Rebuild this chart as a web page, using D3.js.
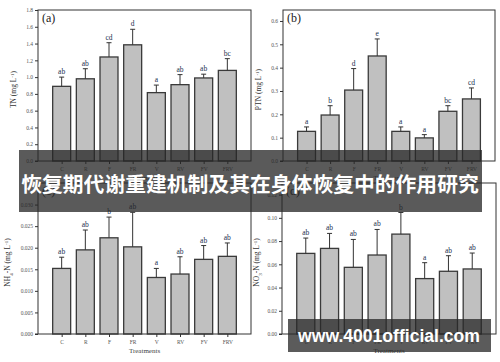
<!DOCTYPE html>
<html>
<head>
<meta charset="utf-8">
<script src="https://cdn.jsdelivr.net/npm/d3@7"></script>
<style>
html,body{margin:0;padding:0;background:#fff;}
svg{display:block;}
</style>
</head>
<body>
<svg id="chart" width="500" height="362"></svg>
<script>
// ---------- data ----------
const categories = ["C", "R", "F", "FR", "V", "RV", "FV", "FRV"];

const tnValues  = [0.89, 0.98, 1.24, 1.385, 0.815, 0.91, 0.99, 1.08];
const tnErrors  = [0.11, 0.12, 0.17, 0.185, 0.09, 0.12, 0.045, 0.14];
const tnLetters = ["ab", "ab", "cd", "d", "a", "ab", "ab", "bc"];
const tnTicks   = [0, 0.2, 0.4, 0.6, 0.8, 1.0, 1.2, 1.4, 1.6, 1.8];

const ptnValues  = [0.127, 0.197, 0.304, 0.45, 0.127, 0.099, 0.213, 0.266];
const ptnErrors  = [0.019, 0.04, 0.092, 0.073, 0.019, 0.014, 0.024, 0.047];
const ptnLetters = ["a", "b", "d", "e", "a", "a", "bc", "cd"];
const ptnTicks   = [0, 0.1, 0.2, 0.3, 0.4, 0.5, 0.6];

const nh4Values  = [0.0152, 0.0195, 0.0223, 0.0202, 0.0131, 0.0139, 0.0173, 0.0180];
const nh4Errors  = [0.0026, 0.0046, 0.0048, 0.0080, 0.0021, 0.0040, 0.0032, 0.0031];
const nh4Letters = ["ab", "ab", "b", "ab", "a", "ab", "ab", "ab"];
const nh4Ticks   = [0, 0.005, 0.010, 0.015, 0.020, 0.025, 0.030];

const no3Values  = [0.0694, 0.0737, 0.0574, 0.068, 0.086, 0.0477, 0.054, 0.056];
const no3Errors  = [0.0132, 0.0129, 0.024, 0.022, 0.0186, 0.0137, 0.0134, 0.0137];
const no3Letters = ["ab", "ab", "ab", "ab", "b", "a", "ab", "ab"];
const no3Ticks   = [0, 0.02, 0.04, 0.06, 0.08, 0.10, 0.12];

const xLabel = "Treatments";
const bannerText = "恢复期代谢重建机制及其在身体恢复中的作用研究";
const watermarkText = "www.4001official.com";

// ---------- layout ----------
const panels = [
  {tag: "(a)", values: tnValues, errors: tnErrors, letters: tnLetters, ticks: tnTicks, fmt: ".1f", ymax: 1.8,
   left: 38, right: 251, top: 10, bottom: 161, ylab: [["TN (mg L", ""], ["-1", "sup"], [")", ""]], ylx: 16},
  {tag: "(b)", values: ptnValues, errors: ptnErrors, letters: ptnLetters, ticks: ptnTicks, fmt: ".1f", ymax: 0.647,
   left: 283, right: 495, top: 10, bottom: 161, ylab: [["PTN (mg L", ""], ["-1", "sup"], [")", ""]], ylx: 261},
  {tag: "(c)", values: nh4Values, errors: nh4Errors, letters: nh4Letters, ticks: nh4Ticks, fmt: ".3f", ymax: 0.035,
   left: 38, right: 251, top: 183, bottom: 334, ylab: [["NH", ""], ["4", "sub"], ["-N (mg L", ""], ["-1", "sup"], [")", ""]], ylx: 10},
  {tag: "(d)", values: no3Values, errors: no3Errors, letters: no3Letters, ticks: no3Ticks, fmt: ".2f", ymax: 0.13,
   left: 282, right: 496, top: 183, bottom: 334, ylab: [["NO", ""], ["3", "sub"], ["-N (mg L", ""], ["-1", "sup"], [")", ""]], ylx: 259}
];

const svg = d3.select("#chart");
const serif = "'Liberation Serif','Times New Roman',serif";
const ink = "#333";

panels.forEach(p => {
  const g = svg.append("g");
  const x = d3.scaleLinear().domain([0, categories.length + 1]).range([p.left, p.right]);
  const y = d3.scaleLinear().domain([0, p.ymax]).range([p.bottom, p.top]);
  const barW = (x(1) - x(0)) * 0.76;

  g.selectAll("rect.bar").data(p.values).join("rect")
    .attr("class", "bar")
    .attr("x", (d, i) => x(i + 1) - barW / 2)
    .attr("y", d => y(d))
    .attr("width", barW)
    .attr("height", d => y(0) - y(d))
    .attr("fill", "#c0c0c0")
    .attr("stroke", "#3a3a3a")
    .attr("stroke-width", 1.3);

  const eb = g.selectAll("g.err").data(p.values).join("g").attr("class", "err");
  eb.append("line")
    .attr("x1", (d, i) => x(i + 1)).attr("x2", (d, i) => x(i + 1))
    .attr("y1", d => y(d)).attr("y2", (d, i) => y(d + p.errors[i]))
    .attr("stroke", ink).attr("stroke-width", 1);
  eb.append("line")
    .attr("x1", (d, i) => x(i + 1) - 2.5).attr("x2", (d, i) => x(i + 1) + 2.5)
    .attr("y1", (d, i) => y(d + p.errors[i])).attr("y2", (d, i) => y(d + p.errors[i]))
    .attr("stroke", ink).attr("stroke-width", 1);

  g.selectAll("text.sig").data(p.values).join("text")
    .attr("class", "sig")
    .attr("x", (d, i) => x(i + 1))
    .attr("y", (d, i) => y(d + p.errors[i]) - 3)
    .attr("text-anchor", "middle")
    .attr("font-family", serif)
    .attr("font-size", 7.5)
    .attr("fill", "#22304f")
    .text((d, i) => p.letters[i]);

  const yAxis = d3.axisLeft(y).tickValues(p.ticks).tickFormat(d3.format(p.fmt))
    .tickSize(3).tickSizeOuter(0).tickPadding(2);
  const ya = g.append("g").attr("transform", `translate(${p.left},0)`).call(yAxis);
  const xAxis = d3.axisBottom(x).tickValues(d3.range(1, categories.length + 1))
    .tickFormat(i => categories[i - 1]).tickSize(3).tickSizeOuter(0).tickPadding(3);
  const xa = g.append("g").attr("transform", `translate(0,${p.bottom})`).call(xAxis);
  [ya, xa].forEach(a => {
    a.select(".domain").remove();
    a.selectAll(".tick line").attr("stroke", ink);
    a.selectAll(".tick text").attr("font-family", serif).attr("font-size", 5.5).attr("fill", "#555");
  });

  g.append("rect")
    .attr("x", p.left).attr("y", p.top)
    .attr("width", p.right - p.left).attr("height", p.bottom - p.top)
    .attr("fill", "none").attr("stroke", ink).attr("stroke-width", 1);
  g.append("line")
    .attr("x1", p.left - 3).attr("x2", p.left)
    .attr("y1", p.bottom).attr("y2", p.bottom)
    .attr("stroke", ink);

  g.append("text")
    .attr("x", p.left + 4).attr("y", p.top + 12)
    .attr("font-family", serif).attr("font-size", 12).attr("fill", "#222")
    .text(p.tag);

  g.append("text")
    .attr("x", (p.left + p.right) / 2).attr("y", p.bottom + 19)
    .attr("text-anchor", "middle")
    .attr("font-family", serif).attr("font-size", 7).attr("fill", "#444")
    .text(xLabel);

  const yl = g.append("text")
    .attr("transform", `translate(${p.ylx},${(p.top + p.bottom) / 2 + 4}) rotate(-90)`)
    .attr("text-anchor", "middle")
    .attr("font-family", serif).attr("font-size", 7.5).attr("fill", "#333");
  p.ylab.forEach(([t, kind]) => {
    const ts = yl.append("tspan").text(t);
    if (kind === "sup") ts.attr("font-size", 5).attr("baseline-shift", "super");
    if (kind === "sub") ts.attr("font-size", 5).attr("baseline-shift", "sub");
  });
});

// banner
svg.append("rect")
  .attr("x", 19).attr("y", 150).attr("width", 463).attr("height", 62)
  .attr("fill", "rgba(38,38,38,0.76)");
const bt = svg.append("text")
  .attr("x", 250).attr("y", 183)
  .attr("text-anchor", "middle").attr("dominant-baseline", "central")
  .attr("font-family", "'Noto Sans CJK SC','Noto Sans',sans-serif")
  .attr("font-weight", "bold").attr("font-size", 22).attr("fill", "#fff")
  .text(bannerText);
const btw = bt.node().getComputedTextLength();
if (btw > 0) bt.attr("font-size", 22 * 458 / btw);

// watermark
svg.append("rect")
  .attr("x", 288).attr("y", 319).attr("width", 203).attr("height", 33)
  .attr("fill", "rgba(40,40,40,0.76)");
const wt = svg.append("text")
  .attr("x", 389).attr("y", 342)
  .attr("text-anchor", "middle")
  .attr("font-family", "'Liberation Sans',Arial,sans-serif")
  .attr("font-weight", "bold").attr("font-size", 17.5).attr("fill", "#fff")
  .text(watermarkText);
const wtw = wt.node().getComputedTextLength();
if (wtw > 0) wt.attr("font-size", 17.5 * 182 / wtw);
</script>
</body>
</html>
